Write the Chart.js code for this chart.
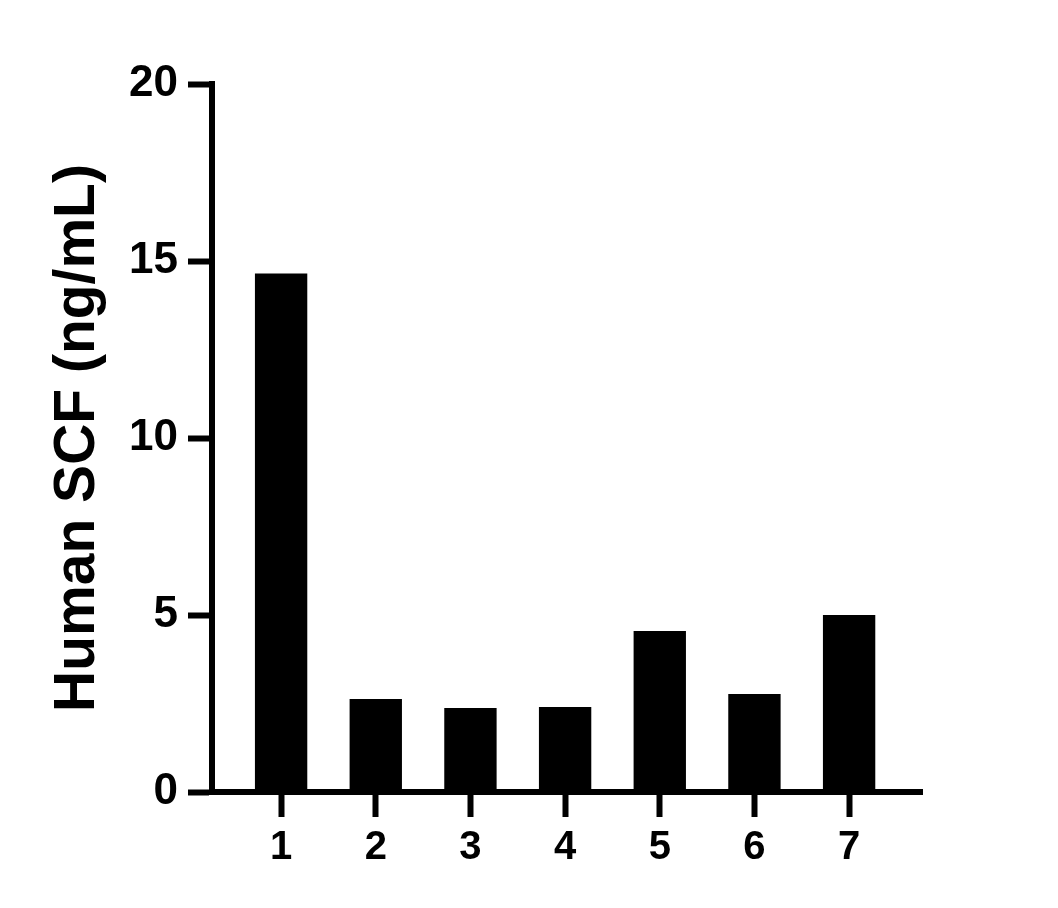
<!DOCTYPE html>
<html>
<head>
<meta charset="utf-8">
<script src="https://cdn.jsdelivr.net/npm/chart.js@4/dist/chart.umd.min.js"></script>
<style>
  html, body { margin: 0; padding: 0; background: #fff; }
  #wrap { width: 1058px; height: 908px; }
</style>
</head>
<body>
<div id="wrap"><canvas id="c" width="1058" height="908"></canvas></div>
<script>
const categories = [1, 2, 3, 4, 5, 6, 7];
const values = [14.65, 2.63, 2.37, 2.40, 4.55, 2.77, 5.00];
const yTicks = [0, 5, 10, 15, 20];
const yTitle = 'Human SCF (ng/mL)';

const FONT = '"Liberation Sans", Arial, Helvetica, sans-serif';

new Chart(document.getElementById('c'), {
  type: 'bar',
  data: {
    labels: categories,
    datasets: [{
      data: values,
      backgroundColor: '#000',
      borderWidth: 0,
      categoryPercentage: 1,
      barPercentage: 0.553
    }]
  },
  options: {
    responsive: false,
    devicePixelRatio: 1,
    animation: false,
    layout: { padding: { top: 84, right: 136, left: 0, bottom: 0 } },
    plugins: { legend: { display: false }, tooltip: { enabled: false } },
    scales: {
      x: {
        type: 'linear',
        min: 0.27,
        max: 7.77,
        offset: false,
        afterBuildTicks: (s) => { s.ticks = categories.map(v => ({ value: v })); },
        afterFit: (s) => { s.height = 116; },
        grid: { display: true, offset: false, drawOnChartArea: false, drawTicks: true, tickLength: 25, tickWidth: 6, tickColor: '#000' },
        border: { display: true, width: 6, color: '#000' },
        ticks: {
          color: '#000',
          padding: 7,
          autoSkip: false,
          maxRotation: 0,
          font: { family: FONT, size: 40, weight: 'bold' },
          callback: (v) => String(v)
        }
      },
      y: {
        min: 0,
        max: 20,
        afterBuildTicks: (s) => { s.ticks = yTicks.map(v => ({ value: v })); },
        afterFit: (s) => { s.width = 212; },
        grid: { display: true, offset: false, drawOnChartArea: false, drawTicks: true, tickLength: 24, tickWidth: 6, tickColor: '#000' },
        border: { display: true, width: 6, color: '#000' },
        ticks: {
          color: '#000',
          padding: 10,
          font: { family: FONT, size: 44, weight: 'bold' }
        },
        title: {
          display: true,
          text: yTitle,
          color: '#000',
          padding: { top: 44, bottom: 0 },
          font: { family: FONT, size: 57, weight: 'bold' }
        }
      }
    }
  }
});
</script>
</body>
</html>
